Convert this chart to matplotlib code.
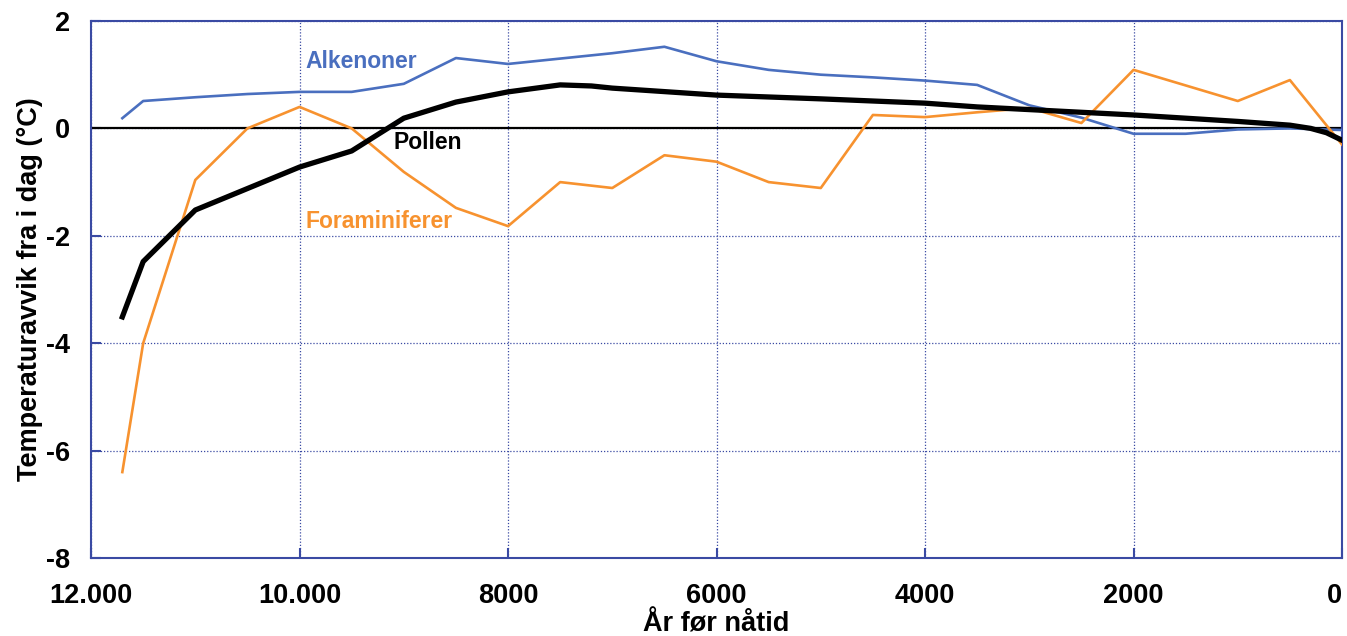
import numpy as np
import matplotlib.pyplot as plt
from matplotlib.ticker import FuncFormatter

plt.rcParams['font.family'] = ['Liberation Sans', 'DejaVu Sans']
plt.rcParams['font.weight'] = 'bold'
plt.rcParams['axes.unicode_minus'] = False

# Alkenoner (blå)
alk_x = [11700, 11500, 11000, 10500, 10000, 9500, 9000, 8500, 8000, 7500, 7000, 6500,
         6000, 5500, 5000, 4500, 4000, 3500, 3000, 2500, 2000, 1500, 1000, 500, 0]
alk_y = [0.19, 0.51, 0.58, 0.64, 0.68, 0.68, 0.83, 1.31, 1.2, 1.3, 1.4, 1.52,
         1.25, 1.09, 1.0, 0.95, 0.89, 0.81, 0.43, 0.2, -0.1, -0.1, -0.02, 0.0, -0.03]

# Pollen (svart)
pol_x = [11700, 11500, 11000, 10000, 9500, 9000, 8500, 8000, 7500, 7200, 7000, 6000,
         5000, 4000, 3500, 3000, 2500, 2000, 1500, 1000, 500, 300, 150, 0]
pol_y = [-3.51, -2.48, -1.52, -0.72, -0.42, 0.19, 0.49, 0.68, 0.81, 0.79, 0.75, 0.62,
         0.55, 0.47, 0.4, 0.35, 0.3, 0.25, 0.19, 0.13, 0.06, 0.0, -0.08, -0.22]

# Foraminiferer (oransje)
for_x = [11700, 11500, 11000, 10500, 10000, 9500, 9000, 8500, 8000, 7500, 7000, 6500,
         6000, 5500, 5000, 4500, 4000, 3500, 3000, 2500, 2000, 1500, 1000, 500, 0]
for_y = [-6.4, -4.0, -0.96, 0.0, 0.4, 0.0, -0.81, -1.48, -1.82, -1.0, -1.11, -0.5,
         -0.62, -1.0, -1.11, 0.25, 0.21, 0.3, 0.38, 0.1, 1.09, 0.8, 0.51, 0.9, -0.3]

xticks = [12000, 10000, 8000, 6000, 4000, 2000, 0]
yticks = [-8, -6, -4, -2, 0, 2]

blue = '#4A6FBF'
orange = '#F7922F'
axcol = '#3A4AA3'

fig = plt.figure(figsize=(13.47, 6.36), dpi=100)
ax = fig.add_axes([0.0676, 0.1226, 0.9287, 0.8444])

ax.set_xlim(12000, 0)
ax.set_ylim(-8, 2)
ax.set_xticks(xticks)
ax.set_yticks(yticks)
ax.xaxis.set_major_formatter(FuncFormatter(lambda v, p: f"{int(v):,}".replace(',', '.') if v >= 10000 else f"{int(v)}"))

ax.grid(True, color=axcol, linestyle=(0, (1, 1.5)), linewidth=0.9)
ax.set_axisbelow(True)
for s in ax.spines.values():
    s.set_color(axcol)
    s.set_linewidth(1.5)
ax.tick_params(direction='in', length=7, width=1.5, color=axcol, labelsize=19.5)
ax.tick_params(axis='x', pad=18)
ax.tick_params(axis='y', pad=15)
for lab in ax.get_xticklabels() + ax.get_yticklabels():
    lab.set_fontweight('bold')
xl = ax.get_xticklabels()
xl[-1].set_horizontalalignment('right')

ax.axhline(0, color='black', linewidth=1.6, zorder=2)

ax.plot(alk_x, alk_y, color=blue, linewidth=1.9, zorder=3)
ax.plot(for_x, for_y, color=orange, linewidth=1.9, zorder=3)
ax.plot(pol_x, pol_y, color='black', linewidth=3.8, zorder=4)

ax.text(9947, 1.24, 'Alkenoner', color=blue, fontsize=16.5, fontweight='bold', va='center')
ax.text(9103, -0.27, 'Pollen', color='black', fontsize=16.5, fontweight='bold', va='center')
ax.text(9947, -1.74, 'Foraminiferer', color=orange, fontsize=16.5, fontweight='bold', va='center')

ax.set_xlabel('År før nåtid', fontsize=19.5, fontweight='bold', labelpad=2)
ax.set_ylabel('Temperaturavvik fra i dag (°C)', fontsize=19.5, fontweight='bold', labelpad=2)

fig.savefig('out.png', dpi=100)
